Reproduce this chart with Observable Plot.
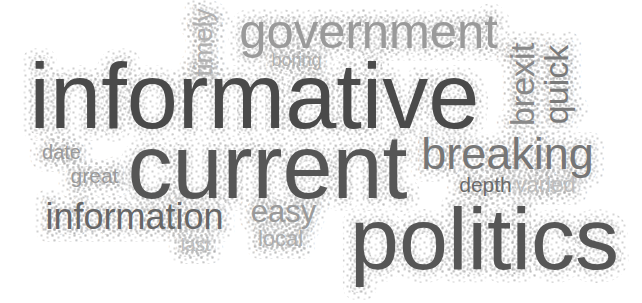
<!DOCTYPE html>
<html>
<head>
<meta charset="utf-8">
<script src="https://cdn.jsdelivr.net/npm/d3@7"></script>
<script src="https://cdn.jsdelivr.net/npm/@observablehq/plot@0.6"></script>
<style>
  html, body { margin: 0; padding: 0; background: #fff; }
  #chart svg { display: block; }
</style>
</head>
<body>
<svg width="0" height="0" style="position:absolute">
  <defs>
    <pattern id="stipple" width="9" height="9" patternUnits="userSpaceOnUse">
      <circle cx="1" cy="1" r="0.9" fill="#a8a8a8"/>
      <circle cx="5.5" cy="2.5" r="0.9" fill="#b4b4b4"/>
      <circle cx="3" cy="5" r="0.9" fill="#a8a8a8"/>
      <circle cx="7.5" cy="6.5" r="0.9" fill="#b8b8b8"/>
      <circle cx="1.5" cy="8" r="0.8" fill="#b0b0b0"/>
      <circle cx="6" cy="8.5" r="0.8" fill="#a8a8a8"/>
    </pattern>
    <pattern id="stipple2" width="11" height="11" patternUnits="userSpaceOnUse">
      <circle cx="2" cy="3" r="0.9" fill="#b8b8b8"/>
      <circle cx="8" cy="1" r="0.9" fill="#c0c0c0"/>
      <circle cx="6" cy="7" r="0.9" fill="#b8b8b8"/>
      <circle cx="1" cy="9" r="0.8" fill="#c4c4c4"/>
    </pattern>
  </defs>
</svg>
<div id="chart"></div>
<script>
// Word cloud: words, their relative frequency, and the cloud layout (in a 642x303 layout space)
const words     = ["informative","current","politics","government","breaking","information","easy","brexit","quick","timely","boring","date","great","depth","varied","last","local"];
const frequency = [92, 90, 88, 49, 45, 36, 31, 34, 34, 26, 18, 20, 21, 21, 22, 19, 22];
const layoutX   = [254, 267, 484, 368, 507, 134, 283, 523, 557, 203, 296, 61, 94, 485, 545, 195, 280];
const layoutY   = [127, 197, 268, 47, 168, 228, 221, 84, 84, 42, 65, 158, 182, 191, 191, 250, 245];
const rotation  = [0, 0, 0, 0, 0, 0, 0, -90, -90, -90, 0, 0, 0, 0, 0, 0, 0];
const shade     = ["#4a4a4a","#565656","#565656","#9a9a9a","#767676","#666666","#9a9a9a","#888888","#7a7a7a","#b0b0b0","#b0b0b0","#9a9a9a","#9a9a9a","#6a6a6a","#bdbdbd","#bdbdbd","#adadad"];

const data = words.map((w, i) => ({word: w, freq: frequency[i], x: layoutX[i], y: layoutY[i], rot: rotation[i], color: shade[i]}));
const flat = data.filter(d => d.rot === 0);
const turned = data.filter(d => d.rot !== 0);

const font = "Liberation Sans, Arial, sans-serif";
const common = {x: "x", y: "y", text: "word", fontSize: "freq", rotate: "rot", textAnchor: "middle", fontFamily: font};
const halo = (width, paint) => ({fill: "none", stroke: paint, strokeWidth: width, strokeLinejoin: "round", strokeLinecap: "round"});

const chart = Plot.plot({
  width: 642,
  height: 303,
  margin: 0,
  x: {domain: [0, 642], axis: null},
  y: {domain: [0, 303], axis: null, reverse: true},
  marks: [
    // stippled halos
    Plot.text(flat, {...common, lineAnchor: "bottom", ...halo(26, "url(#stipple2)")}),
    Plot.text(turned, {...common, lineAnchor: "middle", ...halo(26, "url(#stipple2)")}),
    Plot.text(flat, {...common, lineAnchor: "bottom", ...halo(12, "url(#stipple)")}),
    Plot.text(turned, {...common, lineAnchor: "middle", ...halo(12, "url(#stipple)")}),
    // words
    Plot.text(flat, {...common, lineAnchor: "bottom", fill: "color"}),
    Plot.text(turned, {...common, lineAnchor: "middle", fill: "color"})
  ]
});
document.getElementById("chart").appendChild(chart);
</script>
</body>
</html>
